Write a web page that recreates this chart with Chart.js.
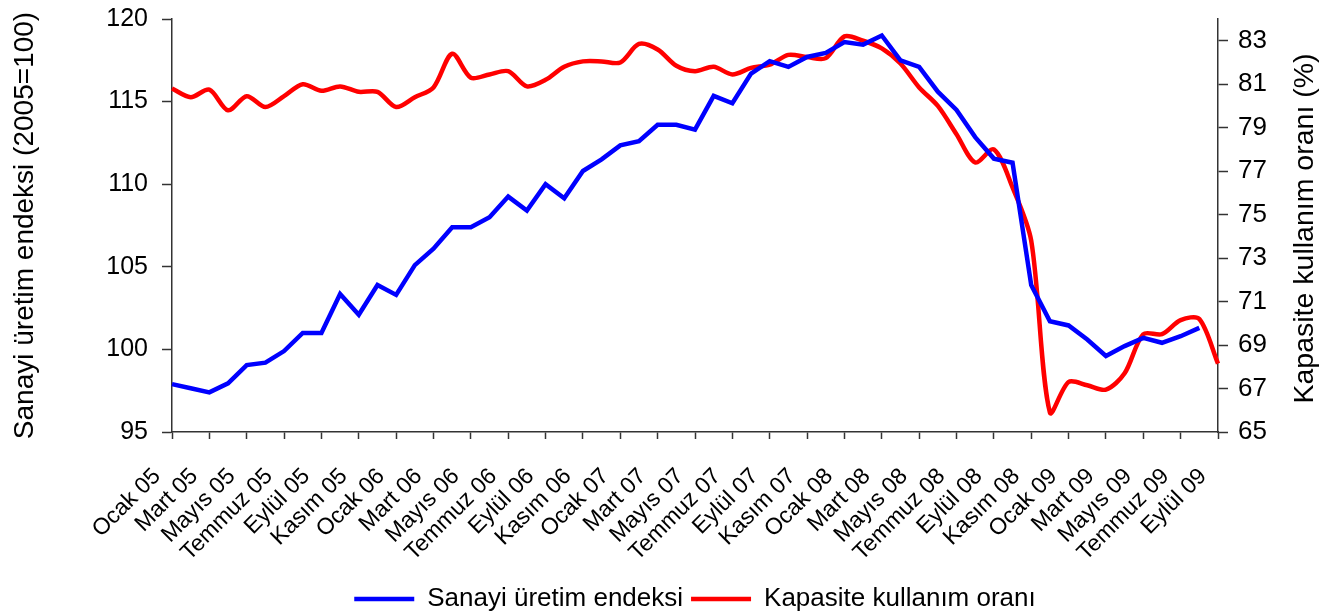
<!DOCTYPE html>
<html>
<head>
<meta charset="utf-8">
<script src="https://cdn.jsdelivr.net/npm/chart.js@4.4.1/dist/chart.umd.min.js"></script>
<style>
  html, body { margin: 0; padding: 0; background: #fff; }
  #wrap { width: 1336px; height: 612px; }
</style>
</head>
<body>
<div id="wrap"><canvas id="chart" width="1336" height="612"></canvas></div>
<script>
// month names + years -> category labels (Ocak 05 .. Eylül 09)
const monthNames = ['Ocak', 'Şubat', 'Mart', 'Nisan', 'Mayıs', 'Haziran', 'Temmuz', 'Ağustos', 'Eylül', 'Ekim', 'Kasım', 'Aralık'];
const yearLabels = ['05', '06', '07', '08', '09'];
const categories = [];
yearLabels.forEach((y) => monthNames.forEach((m) => categories.push(m + ' ' + y)));
categories.length = 57;

// Sanayi üretim endeksi (2005=100), Ocak 05 - Ağustos 09
const sanayiEndeksi = [
  97.9, 97.65, 97.4, 97.95, 99.05, 99.2, 99.9, 101.0, 101.0, 103.35, 102.1, 103.9,
  103.3, 105.1, 106.1, 107.4, 107.4, 108.0, 109.25, 108.4, 110.0, 109.15, 110.8, 111.5,
  112.35, 112.6, 113.6, 113.6, 113.3, 115.35, 114.9, 116.7, 117.45, 117.1, 117.7, 117.95,
  118.6, 118.45, 119.0, 117.5, 117.1, 115.6, 114.5, 112.85, 111.55, 111.3, 103.9, 101.7,
  101.45, 100.6, 99.6, 100.2, 100.7, 100.4, 100.8, 101.3,
];

// Kapasite kullanım oranı (%), Ocak 05 - Eylül 09
const kapasiteOrani = [
  80.8, 80.4, 80.75, 79.8, 80.45, 79.95, 80.45, 81.0, 80.7, 80.9, 80.65, 80.65,
  79.95, 80.4, 80.85, 82.4, 81.3, 81.45, 81.6, 80.9, 81.2, 81.8, 82.05, 82.05,
  82.0, 82.85, 82.6, 81.85, 81.6, 81.8, 81.45, 81.75, 81.9, 82.35, 82.25, 82.2,
  83.2, 83.0, 82.65, 81.95, 80.85, 80.0, 78.7, 77.4, 78.0, 76.25, 73.8, 65.9,
  67.3, 67.15, 66.95, 67.7, 69.5, 69.5, 70.15, 70.2, 68.15,
];

const kapasiteTicks = [65, 67, 69, 71, 73, 75, 77, 79, 81, 83];

const FONT = '"Liberation Sans", Arial, sans-serif';
const AXIS = '#333';
const rightTitle = 'Kapasite kullanım oranı (%)';

// right axis title reads bottom-to-top, so draw it ourselves
const rightTitlePlugin = {
  id: 'rightTitle',
  afterDraw(chart) {
    const { ctx, chartArea } = chart;
    ctx.save();
    ctx.translate(1305, (chartArea.top + chartArea.bottom) / 2 + 3);
    ctx.rotate(-Math.PI / 2);
    ctx.font = '28.5px ' + FONT;
    ctx.fillStyle = '#000';
    ctx.textAlign = 'center';
    ctx.textBaseline = 'middle';
    ctx.fillText(rightTitle, 0, 0);
    ctx.restore();
  },
};

// the value axes should not push the plot down for their top label
function noVertPadding(s) {
  s.paddingTop = 0;
  s.paddingBottom = 0;
}

new Chart(document.getElementById('chart'), {
  type: 'line',
  data: {
    labels: categories,
    datasets: [
      {
        label: 'Sanayi üretim endeksi',
        data: sanayiEndeksi,
        borderColor: '#0000ff',
        backgroundColor: '#0000ff',
        borderWidth: 4.5,
        pointRadius: 0,
        tension: 0,
        yAxisID: 'y',
      },
      {
        label: 'Kapasite kullanım oranı',
        data: kapasiteOrani,
        borderColor: '#ff0000',
        backgroundColor: '#ff0000',
        borderWidth: 4.5,
        pointRadius: 0,
        tension: 0.3,
        yAxisID: 'y1',
      },
    ],
  },
  options: {
    responsive: false,
    animation: false,
    devicePixelRatio: 1,
    layout: { padding: { top: 19, bottom: -10, left: 0, right: 0 } },
    plugins: {
      tooltip: { enabled: false },
      legend: {
        position: 'bottom',
        fullSize: false,
        labels: {
          usePointStyle: true,
          pointStyle: 'line',
          pointStyleWidth: 60,
          color: '#000',
          padding: 8,
          font: { family: FONT, size: 26 },
        },
      },
    },
    scales: {
      x: {
        type: 'category',
        offset: false,
        afterBuildTicks: (s) => { s.ticks = s.ticks.filter((t, i) => i % 2 === 0); },
        afterFit: (s) => { s.height = 146; },
        grid: { drawOnChartArea: false, drawTicks: true, tickLength: 7, color: AXIS, tickWidth: 1.5 },
        border: { display: true, color: AXIS, width: 1.5 },
        ticks: {
          autoSkip: false,
          minRotation: 45,
          maxRotation: 45,
          padding: 24,
          labelOffset: -15,
          color: '#000',
          font: { family: FONT, size: 23 },
        },
      },
      y: {
        position: 'left',
        min: 95,
        max: 120,
        afterFit: (s) => { s.width = 172; noVertPadding(s); },
        grid: { drawOnChartArea: false, drawTicks: true, tickLength: 10, color: AXIS, tickWidth: 1.5 },
        border: { display: true, color: AXIS, width: 1.5 },
        ticks: { stepSize: 5, padding: 14, color: '#000', font: { family: FONT, size: 25 } },
        title: {
          display: true,
          text: 'Sanayi üretim endeksi (2005=100)',
          color: '#000',
          padding: { top: 8, bottom: 0 },
          font: { family: FONT, size: 28 },
        },
      },
      y1: {
        position: 'right',
        min: 65,
        max: 84,
        afterBuildTicks: (s) => { s.ticks = kapasiteTicks.map((v) => ({ value: v })); },
        afterFit: (s) => { s.width = 118; noVertPadding(s); },
        grid: { drawOnChartArea: false, drawTicks: true, tickLength: 10, color: AXIS, tickWidth: 1.5 },
        border: { display: true, color: AXIS, width: 1.5 },
        ticks: { padding: 10, color: '#000', font: { family: FONT, size: 26 } },
      },
    },
  },
  plugins: [rightTitlePlugin],
});
</script>
</body>
</html>
